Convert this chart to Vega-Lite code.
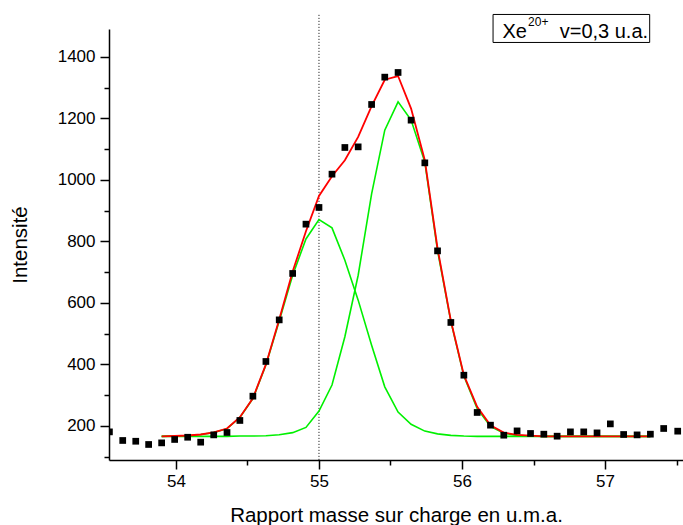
{
  "$schema": "https://vega.github.io/schema/vega-lite/v6.json",
  "width": 574,
  "height": 431,
  "autosize": {"type": "none"},
  "padding": {"left": 109, "top": 29, "right": 0, "bottom": 65},
  "background": "white",
  "config": {
    "view": {"stroke": null},
    "font": "Liberation Sans",
    "axis": {
      "grid": false,
      "labelFont": "Liberation Sans",
      "labelFontSize": 17,
      "labelColor": "black",
      "domainColor": "black",
      "domainWidth": 1.5,
      "tickColor": "black",
      "tickWidth": 1.5,
      "titleFont": "Liberation Sans",
      "titleFontSize": 20.5,
      "titleFontWeight": "normal",
      "titleColor": "black"
    }
  },
  "datasets": {
    "points": [
      {"x": 53.535, "y": 180.5}, {"x": 53.628, "y": 152.5}, {"x": 53.719, "y": 150}, {"x": 53.809, "y": 139.5},
      {"x": 53.900, "y": 144.7}, {"x": 53.991, "y": 155.8}, {"x": 54.082, "y": 163}, {"x": 54.173, "y": 147},
      {"x": 54.264, "y": 170.7}, {"x": 54.357, "y": 178.5}, {"x": 54.447, "y": 217.6}, {"x": 54.538, "y": 296.6},
      {"x": 54.629, "y": 409.5}, {"x": 54.722, "y": 544.8}, {"x": 54.816, "y": 695.8}, {"x": 54.909, "y": 856.2},
      {"x": 55.000, "y": 910.5}, {"x": 55.091, "y": 1018.8}, {"x": 55.181, "y": 1105.6}, {"x": 55.274, "y": 1107.6},
      {"x": 55.368, "y": 1245.5}, {"x": 55.460, "y": 1334.4}, {"x": 55.553, "y": 1349.6}, {"x": 55.644, "y": 1194.5},
      {"x": 55.740, "y": 1055.6}, {"x": 55.829, "y": 769.3}, {"x": 55.922, "y": 536.4}, {"x": 56.013, "y": 364.9},
      {"x": 56.106, "y": 243.6}, {"x": 56.199, "y": 202.3}, {"x": 56.292, "y": 169.7}, {"x": 56.385, "y": 183.7},
      {"x": 56.479, "y": 175.3}, {"x": 56.572, "y": 173}, {"x": 56.665, "y": 166.5}, {"x": 56.758, "y": 180.5},
      {"x": 56.851, "y": 180.5}, {"x": 56.944, "y": 177.2}, {"x": 57.037, "y": 206.5}, {"x": 57.130, "y": 172},
      {"x": 57.224, "y": 170.7}, {"x": 57.317, "y": 173}, {"x": 57.410, "y": 191.5}, {"x": 57.508, "y": 182.8}
    ],
    "fit": [
      {"x": 53.900, "fit": 166, "g1": 166, "g2": 166},
      {"x": 53.991, "fit": 167, "g1": 167, "g2": 166},
      {"x": 54.082, "fit": 168.7, "g1": 168, "g2": 166},
      {"x": 54.173, "fit": 172, "g1": 172, "g2": 166},
      {"x": 54.264, "fit": 178.5, "g1": 178, "g2": 166},
      {"x": 54.357, "fit": 191.5, "g1": 191, "g2": 166},
      {"x": 54.447, "fit": 228, "g1": 227, "g2": 167},
      {"x": 54.538, "fit": 290, "g1": 289, "g2": 167},
      {"x": 54.629, "fit": 400, "g1": 398, "g2": 168},
      {"x": 54.722, "fit": 546, "g1": 541, "g2": 171},
      {"x": 54.816, "fit": 702, "g1": 690, "g2": 178},
      {"x": 54.909, "fit": 833, "g1": 808, "g2": 195},
      {"x": 55.000, "fit": 948, "g1": 871, "g2": 248},
      {"x": 55.091, "fit": 1012, "g1": 844, "g2": 333},
      {"x": 55.181, "fit": 1064, "g1": 739, "g2": 490},
      {"x": 55.274, "fit": 1140, "g1": 609, "g2": 690},
      {"x": 55.368, "fit": 1240, "g1": 462, "g2": 955},
      {"x": 55.460, "fit": 1326, "g1": 327, "g2": 1162},
      {"x": 55.553, "fit": 1338, "g1": 245, "g2": 1254},
      {"x": 55.644, "fit": 1232, "g1": 205, "g2": 1195},
      {"x": 55.740, "fit": 1064, "g1": 183, "g2": 1058},
      {"x": 55.829, "fit": 777, "g1": 174, "g2": 770},
      {"x": 55.922, "fit": 542, "g1": 169, "g2": 540},
      {"x": 56.013, "fit": 365, "g1": 167, "g2": 362},
      {"x": 56.106, "fit": 262, "g1": 166, "g2": 256},
      {"x": 56.199, "fit": 202, "g1": 166, "g2": 198},
      {"x": 56.292, "fit": 178, "g1": 166, "g2": 176},
      {"x": 56.385, "fit": 171, "g1": 166, "g2": 169},
      {"x": 56.479, "fit": 168, "g1": 166, "g2": 167},
      {"x": 56.572, "fit": 166, "g1": 166, "g2": 166},
      {"x": 56.665, "fit": 166, "g1": 166, "g2": 166},
      {"x": 56.758, "fit": 166, "g1": 166, "g2": 166},
      {"x": 56.851, "fit": 166, "g1": 166, "g2": 166},
      {"x": 56.944, "fit": 166, "g1": 166, "g2": 166},
      {"x": 57.037, "fit": 166, "g1": 166, "g2": 166},
      {"x": 57.130, "fit": 166, "g1": 166, "g2": 166},
      {"x": 57.224, "fit": 166, "g1": 166, "g2": 166},
      {"x": 57.317, "fit": 166, "g1": 166, "g2": 166}
    ],
    "note": [
      {"part": "box"}
    ]
  },
  "layer": [
    {
      "data": {"name": "note"},
      "mark": {"type": "rule", "color": "black", "strokeWidth": 1, "strokeDash": [1, 2], "clip": false},
      "encoding": {
        "x": {"datum": 55, "type": "quantitative", "scale": {"domain": [53.532, 57.545], "nice": false, "zero": false}, "axis": null},
        "y": {"datum": 1537, "type": "quantitative", "axis": null},
        "y2": {"datum": 89}
      }
    },
    {
      "data": {"name": "fit"},
      "transform": [{"fold": ["g1", "g2"], "as": ["comp", "val"]}],
      "mark": {"type": "line", "color": "#00f000", "strokeWidth": 1.6, "clip": true},
      "encoding": {
        "x": {"field": "x", "type": "quantitative", "axis": null},
        "y": {"field": "val", "type": "quantitative", "axis": null},
        "detail": {"field": "comp"}
      }
    },
    {
      "data": {"name": "fit"},
      "mark": {"type": "line", "color": "#ff0000", "strokeWidth": 1.8, "clip": true},
      "encoding": {
        "x": {"field": "x", "type": "quantitative",
          "axis": {"orient": "bottom", "values": [54.5, 55.5, 56.5, 57.5], "labels": false, "domain": false, "tickSize": 5, "title": null}},
        "y": {"field": "fit", "type": "quantitative",
          "axis": {"orient": "left", "values": [100, 300, 500, 700, 900, 1100, 1300], "labels": false, "domain": false, "tickSize": 5, "title": null}}
      }
    },
    {
      "data": {"name": "points"},
      "mark": {"type": "square", "color": "black", "size": 45, "opacity": 1, "clip": true},
      "encoding": {
        "x": {"field": "x", "type": "quantitative",
          "axis": {"orient": "bottom", "values": [54, 55, 56, 57], "format": "d", "tickSize": 9, "labelPadding": 4,
            "title": "Rapport masse sur charge en u.m.a.", "titleBaseline": "alphabetic", "titleY": 61}},
        "y": {"field": "y", "type": "quantitative",
          "scale": {"domain": [89, 1491], "nice": false, "zero": false},
          "axis": {"orient": "left", "values": [200, 400, 600, 800, 1000, 1200, 1400], "format": "d", "tickSize": 9, "labelPadding": 5,
            "title": "Intensité", "titleBaseline": "alphabetic", "titleX": -83}}
      }
    },
    {
      "data": {"name": "note"},
      "mark": {"type": "rect", "fill": "white", "stroke": "black", "strokeWidth": 1, "clip": false},
      "encoding": {
        "x": {"datum": 56.217, "type": "quantitative", "axis": null},
        "x2": {"datum": 57.312},
        "y": {"datum": 1538.3, "type": "quantitative", "axis": null},
        "y2": {"datum": 1447.2}
      }
    },
    {
      "data": {"name": "note"},
      "mark": {"type": "text", "text": "Xe", "fontSize": 20, "align": "left", "baseline": "alphabetic", "color": "black", "font": "Liberation Sans", "clip": false},
      "encoding": {
        "x": {"datum": 56.283, "type": "quantitative", "axis": null},
        "y": {"datum": 1460.2, "type": "quantitative", "axis": null}
      }
    },
    {
      "data": {"name": "note"},
      "mark": {"type": "text", "text": "20+", "fontSize": 12, "align": "left", "baseline": "alphabetic", "color": "black", "font": "Liberation Sans", "clip": false},
      "encoding": {
        "x": {"datum": 56.462, "type": "quantitative", "axis": null},
        "y": {"datum": 1500.3, "type": "quantitative", "axis": null}
      }
    },
    {
      "data": {"name": "note"},
      "mark": {"type": "text", "text": "v=0,3 u.a.", "fontSize": 20, "align": "left", "baseline": "alphabetic", "color": "black", "font": "Liberation Sans", "clip": false},
      "encoding": {
        "x": {"datum": 56.683, "type": "quantitative", "axis": null},
        "y": {"datum": 1460.2, "type": "quantitative", "axis": null}
      }
    }
  ],
  "resolve": {"axis": {"x": "independent", "y": "independent"}}
}
